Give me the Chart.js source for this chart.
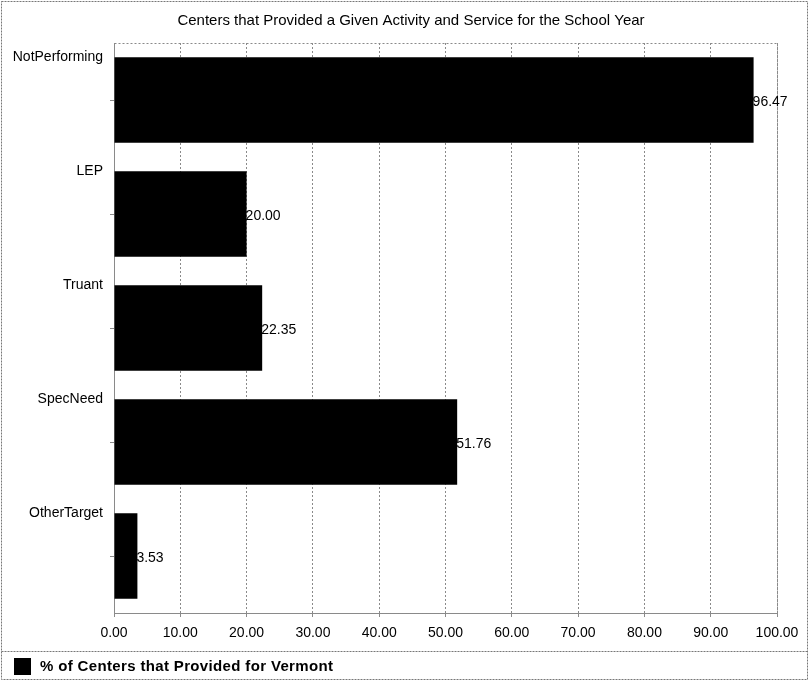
<!DOCTYPE html>
<html>
<head>
<meta charset="utf-8">
<script src="https://cdn.jsdelivr.net/npm/chart.js@4"></script>
<style>
  body { margin: 0; background: #fff; }
</style>
</head>
<body>
<canvas id="chart" width="809" height="681"></canvas>
<script>
const categories = ['NotPerforming', 'LEP', 'Truant', 'SpecNeed', 'OtherTarget'];
const percentValues = [96.47, 20.00, 22.35, 51.76, 3.53];
const xTicks = [0, 10, 20, 30, 40, 50, 60, 70, 80, 90, 100];
const chartTitle = 'Centers that Provided a Given Activity and Service for the School Year';
const seriesLabel = '% of Centers that Provided for Vermont';

const FONT = '"Liberation Sans", Arial, sans-serif';
const gridGrey = '#8a8a8a';

// value labels at the end of each bar
const valueLabels = {
    id: 'valueLabels',
    afterDatasetsDraw(chart) {
        const ctx = chart.ctx;
        const meta = chart.getDatasetMeta(0);
        ctx.save();
        ctx.font = '14px ' + FONT;
        ctx.fillStyle = '#000';
        ctx.textAlign = 'left';
        ctx.textBaseline = 'middle';
        meta.data.forEach((bar, i) => {
            ctx.fillText(percentValues[i].toFixed(2), bar.x - 1, bar.y + 2);
        });
        ctx.restore();
    }
};

// title, dashed frame round the plot, outer border and legend strip
const frame = {
    id: 'frame',
    beforeDatasetsDraw(chart) {
        const {ctx, chartArea} = chart;
        ctx.save();
        ctx.strokeStyle = gridGrey;
        ctx.lineWidth = 1;
        ctx.setLineDash([2, 2]);
        ctx.strokeRect(chartArea.left + 0.5, chartArea.top + 0.5,
            chartArea.right - chartArea.left, chartArea.bottom - chartArea.top);
        ctx.restore();
    },
    afterDraw(chart) {
        const ctx = chart.ctx;
        const w = chart.width, h = chart.height;
        ctx.save();
        ctx.fillStyle = '#000';
        ctx.font = '15px ' + FONT;
        ctx.textAlign = 'center';
        ctx.textBaseline = 'middle';
        ctx.fillText(chartTitle, 411, 21);

        ctx.strokeStyle = '#777';
        ctx.lineWidth = 1;
        ctx.setLineDash([2, 1]);
        ctx.strokeRect(1.5, 1.5, w - 3, h - 3);
        ctx.beginPath();
        ctx.moveTo(1.5, 651.5);
        ctx.lineTo(w - 1.5, 651.5);
        ctx.stroke();
        ctx.setLineDash([]);
        // legend
        ctx.fillRect(14, 658, 17, 17);
        ctx.font = 'bold 15px ' + FONT;
        ctx.letterSpacing = '0.35px';
        ctx.textAlign = 'left';
        ctx.fillText(seriesLabel, 40, 667);
        ctx.restore();
    }
};

const ctx = document.getElementById('chart').getContext('2d');
new Chart(ctx, {
    type: 'bar',
    data: {
        labels: categories,
        datasets: [{
            label: seriesLabel,
            data: percentValues,
            backgroundColor: '#000',
            borderWidth: 0,
            barPercentage: 0.75,
            categoryPercentage: 1
        }]
    },
    options: {
        indexAxis: 'y',
        responsive: false,
        animation: false,
        layout: {
            padding: { left: 0, right: 32, top: 43, bottom: 30 }
        },
        plugins: {
            legend: { display: false },
            tooltip: { enabled: false },
            title: { display: false }
        },
        scales: {
            x: {
                type: 'linear',
                min: 0,
                max: 100,
                afterBuildTicks(scale) {
                    scale.ticks = xTicks.map(v => ({ value: v }));
                },
                afterFit(scale) {
                    scale.height = 38;
                },
                ticks: {
                    color: '#000',
                    font: { family: FONT, size: 14 },
                    padding: 8,
                    maxRotation: 0,
                    callback: v => v.toFixed(2)
                },
                grid: {
                    color: gridGrey,
                    lineWidth: 1,
                    tickLength: 4
                },
                border: { display: true, color: gridGrey, dash: [2, 2] }
            },
            y: {
                afterFit(scale) {
                    scale.width = 114;
                },
                ticks: {
                    color: '#000',
                    font: { family: FONT, size: 14 },
                    padding: 7,
                    labelOffset: -43
                },
                grid: {
                    offset: false,
                    drawOnChartArea: false,
                    color: gridGrey,
                    tickLength: 4
                },
                border: { display: true, color: gridGrey, dash: [2, 2] }
            }
        }
    },
    plugins: [frame, valueLabels]
});
</script>
</body>
</html>
